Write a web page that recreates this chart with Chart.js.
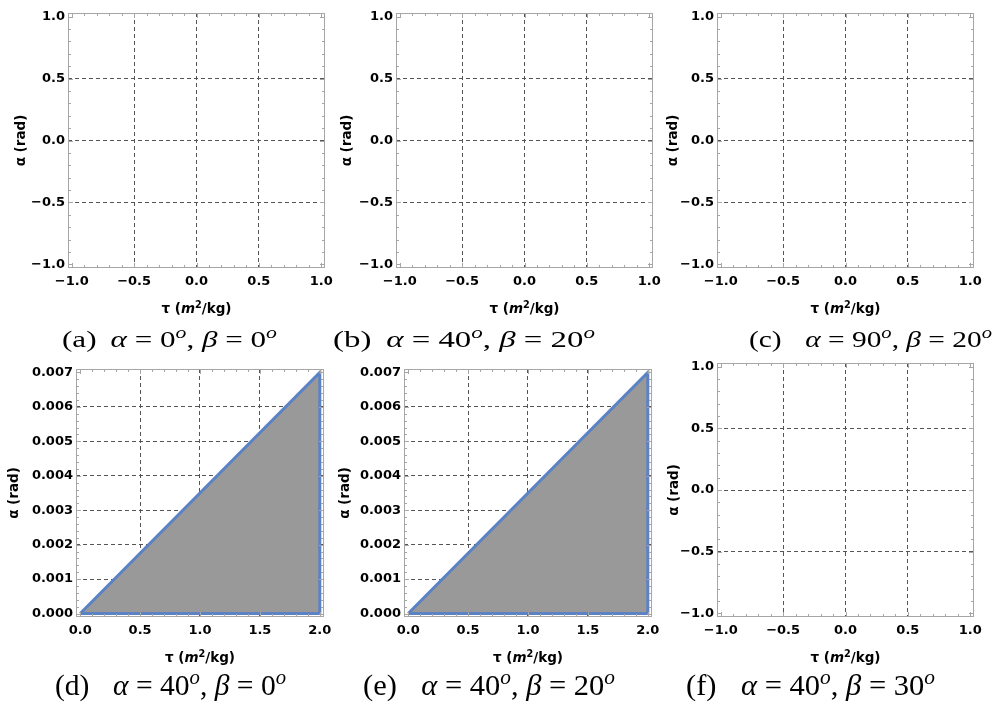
<!DOCTYPE html>
<html>
<head>
<meta charset="utf-8">
<title>Feasible region plots</title>
<script src="https://cdn.jsdelivr.net/npm/chart.js@4.4.1/dist/chart.umd.min.js"></script>
<style>
  html, body { margin: 0; padding: 0; background: #fff; }
  #fig { position: relative; width: 994px; height: 704px; overflow: hidden; }
  .panel { position: absolute; }
  .cap { position: absolute; font-family: "Liberation Serif", serif; white-space: nowrap; line-height: 1; color: #000; transform-origin: 0 50%; }
  .cap i { font-style: italic; }
  .cap sup { font-size: 0.7em; vertical-align: baseline; position: relative; top: -0.55em; }
  .xtitle { position: absolute; font-family: "DejaVu Sans", sans-serif; font-weight: bold; font-size: 13.5px; line-height: 1; white-space: nowrap; color: #000; transform: translate(-50%, -50%); }
  .xtitle sup { font-size: 0.72em; vertical-align: baseline; position: relative; top: -0.5em; }
</style>
</head>
<body>
<div id="fig"></div>
<script>
// sun angles for each panel (a)-(f)
const panelTags = ["a", "b", "c", "d", "e", "f"];
const alphaDeg = [0, 40, 90, 40, 40, 40];
const betaDeg = [0, 20, 20, 0, 20, 30];
const hasRegion = [false, false, false, true, true, false];

// tick labels
const emptyTicks = [-1, -0.5, 0, 0.5, 1];
const tauTicks = [0, 0.5, 1, 1.5, 2];
const alphaTicks = [0, 0.001, 0.002, 0.003, 0.004, 0.005, 0.006, 0.007];

// feasible region in (d) and (e): upper edge, and the whole boundary
const fillTau = [0, 2];
const fillAlpha = [0, 0.007];
const edgeTau = [0, 2, 2, 0];
const edgeAlpha = [0, 0.007, 0, 0];

// frame of each panel on the page (px)
const frames = [
    {L: 68, R: 325, T: 13, B: 268, yt: 21},
    {L: 396, R: 653, T: 13, B: 268, yt: 347},
    {L: 717, R: 974, T: 13, B: 268, yt: 673},
    {L: 76, R: 324, T: 369, B: 617, yt: 14},
    {L: 404, R: 652, T: 369, B: 617, yt: 345},
    {L: 717, R: 974, T: 363, B: 617, yt: 674}
];
const captions = [
    {x: 62, y: 341, w: 215, f: 24, gap: 0.45},
    {x: 333, y: 341, w: 262, f: 24, gap: 0.45},
    {x: 749, y: 341, w: 243, f: 24, gap: 0.8},
    {x: 55, y: 688, w: 231, f: 30, gap: 0.8},
    {x: 363, y: 688, w: 252, f: 30, gap: 0.8},
    {x: 686, y: 688, w: 249, f: 30, gap: 0.8}
];

Chart.defaults.font.family = "DejaVu Sans";
Chart.defaults.color = "#000";

const fig = document.getElementById("fig");
const X_AXIS_H = 54;

// frame with inward major/minor ticks on all four sides
function makeFrame(xt, yt) {
    const marks = (vals) => {
        const out = [];
        for (let k = 0; k < vals.length; k++) {
            out.push([vals[k], 5]);
            if (k < vals.length - 1) {
                const step = (vals[k + 1] - vals[k]) / 5;
                for (let m = 1; m < 5; m++) out.push([vals[k] + m * step, 3]);
            }
        }
        return out;
    };
    return {
        id: "frame",
        afterDatasetsDraw(chart) {
            const {ctx, chartArea: a} = chart;
            const x = chart.scales.x, y = chart.scales.y;
            ctx.save();
            ctx.strokeStyle = "#a6a6a6";
            ctx.lineWidth = 1;
            ctx.beginPath();
            marks(xt).forEach(([v, len]) => {
                const px = Math.round(x.getPixelForValue(v)) + 0.5;
                ctx.moveTo(px, a.bottom); ctx.lineTo(px, a.bottom - len);
                ctx.moveTo(px, a.top); ctx.lineTo(px, a.top + len);
            });
            marks(yt).forEach(([v, len]) => {
                const py = Math.round(y.getPixelForValue(v)) + 0.5;
                ctx.moveTo(a.left, py); ctx.lineTo(a.left + len, py);
                ctx.moveTo(a.right, py); ctx.lineTo(a.right - len, py);
            });
            ctx.stroke();
            ctx.strokeRect(Math.round(a.left) + 0.5, Math.round(a.top) + 0.5,
                Math.round(a.width) - 1, Math.round(a.height) - 1);
            ctx.restore();
        }
    };
}

const fmt = (v, d) => v.toFixed(d).replace("-", "\u2212");

function addPanel(i) {
    const f = frames[i];
    const region = hasRegion[i];
    const xt = region ? tauTicks : emptyTicks;
    const yt = region ? alphaTicks : emptyTicks;
    const xpad = region ? 0.035 : 0.03;
    const ypad = region ? 0.0001 : 0.03;
    const xdig = 1, ydig = region ? 3 : 1;

    const left = f.yt - 10, top = f.T - 12;
    const w = f.R + 16 - left, h = f.B + X_AXIS_H - top;
    const yw = f.L - left;

    const box = document.createElement("div");
    box.className = "panel";
    box.style.left = left + "px";
    box.style.top = top + "px";
    box.style.width = w + "px";
    box.style.height = h + "px";
    const canvas = document.createElement("canvas");
    canvas.width = w;
    canvas.height = h;
    box.appendChild(canvas);
    fig.appendChild(box);

    // x axis title as text so m can be italic and the 2 a real superscript
    const xTitle = document.createElement("div");
    xTitle.className = "xtitle";
    xTitle.innerHTML = "\u03c4 (<i>m</i><sup>2</sup>/kg)";
    xTitle.style.left = ((f.L + f.R) / 2) + "px";
    xTitle.style.top = (f.B + 41) + "px";
    fig.appendChild(xTitle);

    const gridColor = (n) => (c) => (c.index > 0 && c.index < n - 1) ? "#555555" : "rgba(0,0,0,0)";
    const datasets = [];
    if (region) {
        datasets.push({
            data: edgeTau.map((t, k) => ({x: t, y: edgeAlpha[k]})),
            showLine: true,
            fill: false,
            borderColor: "#5b82c4",
            borderWidth: 3,
            pointRadius: 0
        });
        datasets.push({
            data: fillTau.map((t, k) => ({x: t, y: fillAlpha[k]})),
            showLine: true,
            fill: "origin",
            backgroundColor: "#999999",
            borderWidth: 0,
            pointRadius: 0
        });
    }

    new Chart(canvas, {
        type: "scatter",
        data: {datasets: datasets},
        options: {
            responsive: false,
            animation: false,
            layout: {padding: {top: 12, right: 16, left: 0, bottom: 0}},
            plugins: {legend: {display: false}, tooltip: {enabled: false}},
            scales: {
                x: {
                    type: "linear",
                    min: xt[0] - xpad,
                    max: xt[xt.length - 1] + xpad,
                    afterBuildTicks: (s) => { s.ticks = xt.map(v => ({value: v})); },
                    afterFit: (s) => { s.height = X_AXIS_H; },
                    ticks: {
                        callback: (v) => fmt(v, xdig),
                        font: {size: 13, weight: "bold"},
                        color: "#000",
                        padding: 6,
                        maxRotation: 0,
                        autoSkip: false
                    },
                    grid: {color: gridColor(xt.length), lineWidth: 1, drawTicks: false},
                    border: {display: false, dash: [4, 3]},
                    title: {display: false}
                },
                y: {
                    type: "linear",
                    min: yt[0] - ypad,
                    max: yt[yt.length - 1] + ypad,
                    afterBuildTicks: (s) => { s.ticks = yt.map(v => ({value: v})); },
                    afterFit: (s) => { s.width = yw; },
                    ticks: {
                        callback: (v) => fmt(v, ydig),
                        font: {size: 13, weight: "bold"},
                        color: "#000",
                        padding: 3,
                        autoSkip: false
                    },
                    grid: {color: gridColor(yt.length), lineWidth: 1, drawTicks: false},
                    border: {display: false, dash: [4, 3]},
                    title: {
                        display: true,
                        text: "\u03b1 (rad)",
                        font: {size: 13.5, weight: "bold"},
                        color: "#000",
                        padding: {top: 2, bottom: 0}
                    }
                }
            }
        },
        plugins: [makeFrame(xt, yt)]
    });
}

function addCaption(i) {
    const c = captions[i];
    const div = document.createElement("div");
    div.className = "cap";
    div.style.fontSize = c.f + "px";
    div.innerHTML = '<span style="margin-right:' + c.gap + 'em">(' + panelTags[i] + ')</span>' +
        '<i>\u03b1</i> = ' + alphaDeg[i] + '<sup><i>o</i></sup>, ' +
        '<i>\u03b2</i> = ' + betaDeg[i] + '<sup><i>o</i></sup>';
    fig.appendChild(div);
    const natural = div.getBoundingClientRect().width;
    div.style.left = c.x + "px";
    div.style.top = (c.y - 0.588 * c.f) + "px";
    div.style.transform = "scaleX(" + (c.w / natural) + ")";
}

for (let i = 0; i < frames.length; i++) {
    addPanel(i);
    addCaption(i);
}
</script>
</body>
</html>
